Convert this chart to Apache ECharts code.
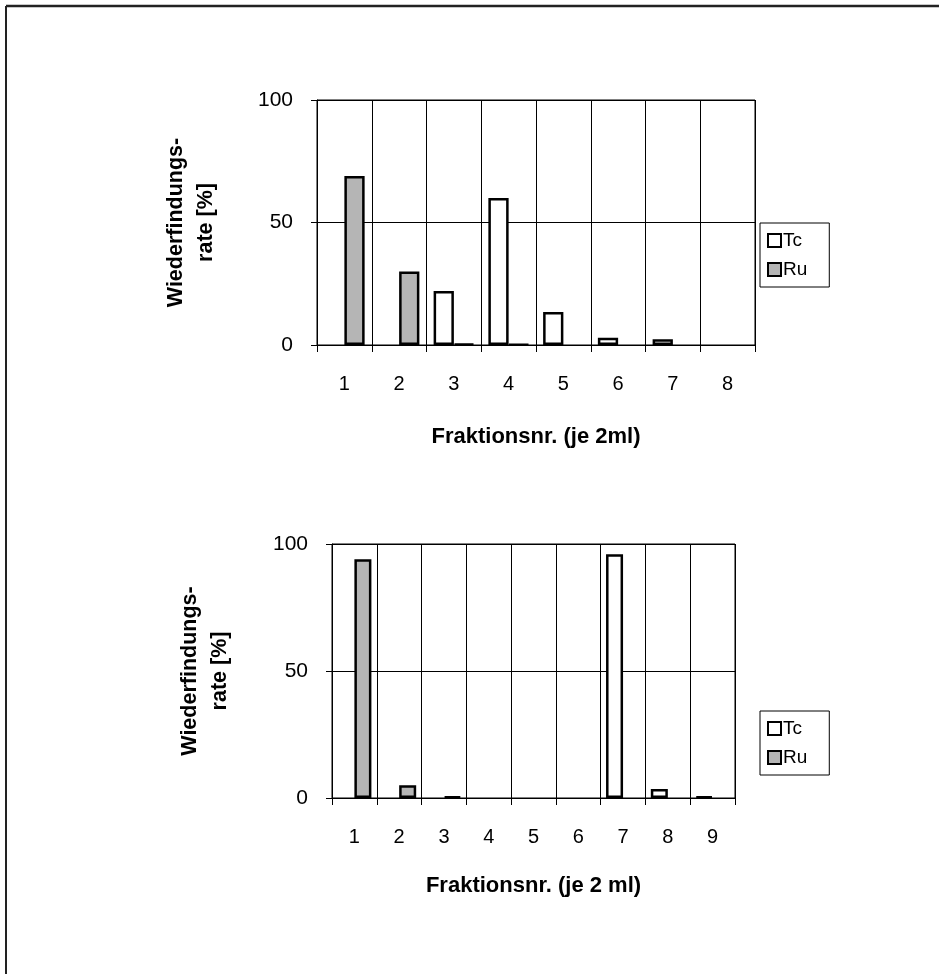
<!DOCTYPE html>
<html>
<head>
<meta charset="utf-8">
<script src="https://cdn.jsdelivr.net/npm/echarts@6/dist/echarts.min.js"></script>
<style>
html,body{margin:0;padding:0;background:#fff;}
#c{width:939px;height:974px;}
</style>
</head>
<body>
<div id="c"></div>
<script>
// Top chart
const catsTop = ['1','2','3','4','5','6','7','8'];
const tcTop = [null, null, 22, 60, 13.5, 3, 2.3, null];
const ruTop = [69, 30, 0.5, 0.3, null, null, null, null];
// Bottom chart
const catsBot = ['1','2','3','4','5','6','7','8','9'];
const tcBot = [null, null, null, null, null, null, 96, 3.5, 0.5];
const ruBot = [94, 5, 0.5, null, null, null, null, null, null];
const yTicks = [0, 50, 100];
const xTitleTop = 'Fraktionsnr. (je 2ml)';
const xTitleBot = 'Fraktionsnr. (je 2 ml)';
const yTitle = 'Wiederfindungs-\nrate [%]';

const FONT = 'Liberation Sans, Arial, sans-serif';
const chart = echarts.init(document.getElementById('c'), null, {renderer:'canvas'});

function xAxisCfg(idx, cats, title, gap){
  return {
    gridIndex: idx, type:'category', data: cats,
    axisLine:{show:true, lineStyle:{color:'#000', width:1}},
    axisTick:{show:true, length:7, alignWithLabel:false, lineStyle:{color:'#000'}},
    axisLabel:{color:'#000', fontSize:20, fontFamily:FONT, margin:29},
    splitLine:{show:true, lineStyle:{color:'#000', width:1}},
    name: title, nameLocation:'middle', nameGap: gap,
    nameTextStyle:{color:'#000', fontSize:22, fontWeight:'bold', fontFamily:FONT}
  };
}
function yAxisCfg(idx, gap){
  return {
    gridIndex: idx, type:'value', min:yTicks[0], max:yTicks[yTicks.length-1], interval:yTicks[1]-yTicks[0],
    axisLine:{show:true, lineStyle:{color:'#000', width:1}},
    axisTick:{show:true, length:6, lineStyle:{color:'#000'}},
    axisLabel:{color:'#000', fontSize:21, fontFamily:FONT, margin:24},
    splitLine:{show:true, lineStyle:{color:'#000', width:1}},
    name: yTitle, nameLocation:'middle', nameRotate:90, nameGap: gap,
    nameTextStyle:{color:'#000', fontSize:21.5, fontWeight:'bold', fontFamily:FONT, lineHeight:30, align:'center'}
  };
}
const tcStyle = {color:'#ffffff', borderColor:'#000', borderWidth:2.5};
const ruStyle = {color:'#b5b5b5', borderColor:'#000', borderWidth:2.5};

function legendCfg(top){
  return {
    orient:'vertical', left:760, top: top,
    borderColor:'#000', borderWidth:1, padding:[8,22,8,7],
    itemWidth:13, itemHeight:13, itemGap:10,
    textStyle:{color:'#000', fontSize:19, fontFamily:FONT, padding:[0,0,0,-3]},
    data:[
      {name:'Tc', icon:'rect', itemStyle:{color:'#fff', borderColor:'#000', borderWidth:2}},
      {name:'Ru', icon:'rect', itemStyle:{color:'#b5b5b5', borderColor:'#000', borderWidth:2}}
    ]
  };
}

chart.setOption({
  animation:false,
  backgroundColor:'#fff',
  grid:[
    {left:317, top:100, width:438, height:245, show:true, borderColor:'#000', borderWidth:1, backgroundColor:'transparent'},
    {left:332, top:544, width:403, height:254, show:true, borderColor:'#000', borderWidth:1, backgroundColor:'transparent'}
  ],
  xAxis:[ xAxisCfg(0, catsTop, xTitleTop, 81), xAxisCfg(1, catsBot, xTitleBot, 77) ],
  yAxis:[ yAxisCfg(0, 96), yAxisCfg(1, 97) ],
  legend:[ legendCfg(223), legendCfg(711) ],
  series:[
    {name:'Tc', type:'bar', xAxisIndex:0, yAxisIndex:0, data:tcTop, itemStyle:tcStyle, barGap:'0%', barCategoryGap:'26%'},
    {name:'Ru', type:'bar', xAxisIndex:0, yAxisIndex:0, data:ruTop, itemStyle:ruStyle, barGap:'0%', barCategoryGap:'26%'},
    {name:'Tc', type:'bar', xAxisIndex:1, yAxisIndex:1, data:tcBot, itemStyle:tcStyle, barGap:'0%', barCategoryGap:'24%'},
    {name:'Ru', type:'bar', xAxisIndex:1, yAxisIndex:1, data:ruBot, itemStyle:ruStyle, barGap:'0%', barCategoryGap:'24%'}
  ],
  graphic:[
    {type:'line', shape:{x1:6, y1:6, x2:939, y2:6}, style:{stroke:'#222', lineWidth:2.5}},
    {type:'line', shape:{x1:6, y1:6, x2:6, y2:974}, style:{stroke:'#222', lineWidth:2}}
  ]
});
</script>
</body>
</html>
